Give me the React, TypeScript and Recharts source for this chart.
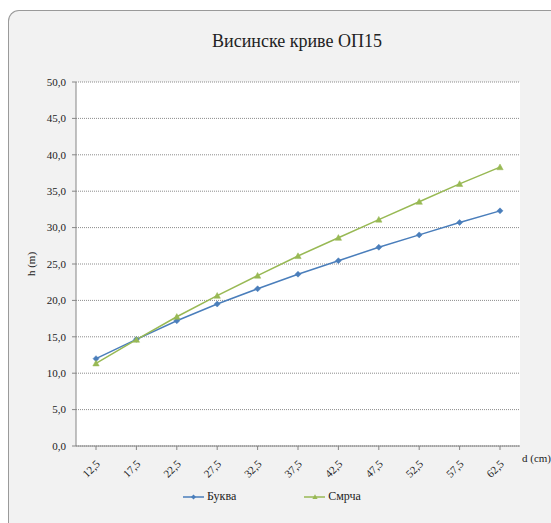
import React from 'react';
import { LineChart, Line, XAxis, YAxis, CartesianGrid, Legend, Label } from 'recharts';

const categories = ['12,5', '17,5', '22,5', '27,5', '32,5', '37,5', '42,5', '47,5', '52,5', '57,5', '62,5'];
const bukva = [12.0, 14.65, 17.2, 19.5, 21.6, 23.6, 25.45, 27.3, 29.0, 30.7, 32.3];
const smrcha = [11.35, 14.6, 17.75, 20.65, 23.4, 26.1, 28.6, 31.1, 33.55, 36.0, 38.3];
const yTicks = [0, 5, 10, 15, 20, 25, 30, 35, 40, 45, 50];

const seriesNames = { bukva: 'Буква', smrcha: 'Смрча' };
const BLUE = '#4a7ebb';
const GREEN = '#98b954';
const FONT = "'Liberation Serif', serif";

const data = categories.map((d, i) => ({ d, bukva: bukva[i], smrcha: smrcha[i] }));

const Diamond = (props: any) => {
  const { cx, cy } = props;
  if (cx == null || cy == null) return null;
  const r = 3;
  return <path d={`M${cx},${cy - r}L${cx + r},${cy}L${cx},${cy + r}L${cx - r},${cy}Z`} fill={BLUE} stroke={BLUE} strokeWidth={0.5} />;
};

const Triangle = (props: any) => {
  const { cx, cy } = props;
  if (cx == null || cy == null) return null;
  const r = 3.2;
  return <path d={`M${cx},${cy - r}L${cx + r},${cy + r * 0.8}L${cx - r},${cy + r * 0.8}Z`} fill={GREEN} stroke={GREEN} strokeWidth={0.5} />;
};

const XTick = (props: any) => {
  const { x, y, payload } = props;
  return (
    <g transform={`translate(${x + 2},${y + 10})`}>
      <text transform="rotate(-45)" textAnchor="end" dy="0.35em" fontSize={11} fill="#222" style={{ fontFamily: FONT }}>
        {payload.value}
      </text>
    </g>
  );
};

const YTick = (props: any) => {
  const { x, y, payload } = props;
  return (
    <text x={x - 4} y={y} textAnchor="end" dy="0.35em" fontSize={11} fill="#222" style={{ fontFamily: FONT }}>
      {Number(payload.value).toFixed(1).replace('.', ',')}
    </text>
  );
};

const LegendContent = () => (
  <div style={{ display: 'flex', fontFamily: FONT, fontSize: 12, color: '#222', alignItems: 'center' }}>
    <div style={{ display: 'flex', alignItems: 'center', marginRight: 68 }}>
      <svg width={22} height={10}>
        <line x1={0} y1={5} x2={21} y2={5} stroke={BLUE} strokeWidth={1.5} />
        <path d="M10.5,2.5L13,5L10.5,7.5L8,5Z" fill={BLUE} />
      </svg>
      <span style={{ marginLeft: 2 }}>{seriesNames.bukva}</span>
    </div>
    <div style={{ display: 'flex', alignItems: 'center' }}>
      <svg width={22} height={10}>
        <line x1={0} y1={5} x2={21} y2={5} stroke={GREEN} strokeWidth={1.5} />
        <path d="M11,2.2L13.6,7L8.4,7Z" fill={GREEN} />
      </svg>
      <span style={{ marginLeft: 2 }}>{seriesNames.smrcha}</span>
    </div>
  </div>
);

export default function App() {
  return (
    <div
      style={{
        position: 'absolute',
        left: 8,
        top: 10,
        width: 543,
        height: 513,
        background: '#f2f2f2',
        borderLeft: '1px solid #9a9a9a',
        borderTop: '1px solid #9a9a9a',
        borderTopLeftRadius: 11,
        boxSizing: 'border-box',
        overflow: 'hidden',
      }}
    >
      <div
        style={{
          position: 'absolute',
          top: 20,
          left: 0,
          width: 543,
          textAlign: 'center',
          fontFamily: FONT,
          fontSize: 18,
          color: '#222',
          paddingLeft: 33,
          boxSizing: 'border-box',
        }}
      >
        Висинске криве ОП15
      </div>
      <div style={{ position: 'absolute', left: -1, top: -1 }}>
        <LineChart width={543} height={513} data={data} margin={{ top: 72, right: 31, bottom: 32, left: 0 }}>
          <CartesianGrid vertical={false} fill="#ffffff" stroke="#8c8c8c" strokeDasharray="1 1" />
          <XAxis
            dataKey="d"
            type="category"
            padding={{ left: 20, right: 20 }}
            height={45}
            tickSize={4}
            tickLine={{ stroke: '#868686' }}
            axisLine={{ stroke: '#868686' }}
            tick={<XTick />}
            interval={0}
          >
            <Label value="d (cm)" position="right" offset={2} dy={-10} fontSize={11} fill="#222" style={{ fontFamily: FONT }} />
          </XAxis>
          <YAxis
            type="number"
            domain={[0, 50]}
            ticks={yTicks}
            width={68}
            tickSize={4}
            interval={0}
            tickLine={{ stroke: '#868686' }}
            axisLine={{ stroke: '#868686' }}
            tick={<YTick />}
          >
            <Label value="h (m)" position="center" angle={-90} dx={-11} fontSize={11} fill="#222" style={{ fontFamily: FONT }} />
          </YAxis>
          <Legend
            layout="horizontal"
            verticalAlign="middle"
            align="center"
            wrapperStyle={{ top: 479, left: 175, width: 300 }}
            content={<LegendContent />}
          />
          <Line
            type="linear"
            dataKey="bukva"
            name={seriesNames.bukva}
            stroke={BLUE}
            strokeWidth={1.5}
            dot={<Diamond />}
            activeDot={false}
            isAnimationActive={false}
          />
          <Line
            type="linear"
            dataKey="smrcha"
            name={seriesNames.smrcha}
            stroke={GREEN}
            strokeWidth={1.5}
            dot={<Triangle />}
            activeDot={false}
            isAnimationActive={false}
          />
        </LineChart>
      </div>
    </div>
  );
}
